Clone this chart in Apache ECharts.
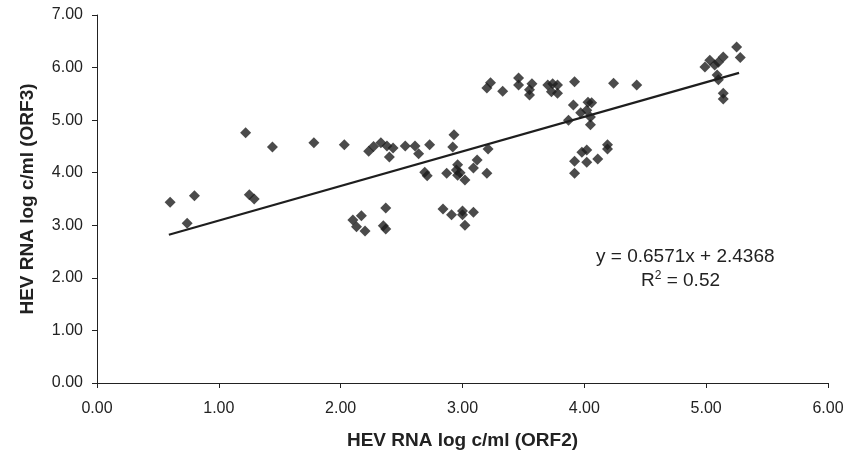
<!DOCTYPE html>
<html>
<head>
<meta charset="utf-8">
<script src="https://cdn.jsdelivr.net/npm/echarts@6/dist/echarts.min.js"></script>
<style>html,body{margin:0;padding:0;background:#fff}#c{width:848px;height:458px}</style>
</head>
<body>
<div id="c"></div>
<script>
const xValues = [0.60,0.74,0.80,1.22,1.25,1.29,1.44,1.78,2.03,
  2.10,2.13,2.17,2.20,2.35,2.37,2.37,
  2.23,2.27,2.33,2.38,2.40,2.43,2.53,2.61,2.64,2.69,2.71,2.73,
  2.84,2.91,3.00,3.00,3.02,3.09,
  2.92,2.93,2.87,2.96,2.95,2.98,2.96,3.02,3.09,3.12,3.20,3.21,
  3.20,3.23,3.33,3.46,3.46,3.57,3.55,3.55,3.70,3.74,3.73,3.78,3.78,3.92,
  3.91,3.87,3.97,4.03,4.06,4.02,4.05,4.05,4.24,4.43,
  4.19,4.19,3.98,4.02,3.92,4.02,4.11,3.92,
  4.99,5.03,5.07,5.10,5.14,5.09,5.10,5.14,5.14,5.25,5.28];
const yValues = [3.44,3.04,3.56,4.76,3.58,3.50,4.49,4.57,4.53,
  3.10,2.97,3.18,2.89,2.99,2.93,3.33,
  4.41,4.50,4.57,4.51,4.30,4.47,4.51,4.51,4.36,4.01,3.94,4.53,
  3.31,3.20,3.27,3.20,3.00,3.25,
  4.49,4.72,3.99,4.15,4.05,4.00,3.95,3.86,4.09,4.24,3.99,4.45,
  5.61,5.71,5.55,5.80,5.67,5.69,5.58,5.48,5.67,5.69,5.54,5.51,5.67,5.73,
  5.29,5.00,5.14,5.34,5.33,5.19,5.06,4.91,5.70,5.67,
  4.53,4.45,4.39,4.43,4.22,4.20,4.26,3.99,
  6.01,6.14,6.05,6.10,6.20,5.86,5.77,5.51,5.40,6.39,6.19];
const trendX = [0.59, 5.27];
const trendY = [2.82, 5.90];
const xTicks = ['0.00','1.00','2.00','3.00','4.00','5.00','6.00'];
const yTicks = ['0.00','1.00','2.00','3.00','4.00','5.00','6.00','7.00'];

const chart = echarts.init(document.getElementById('c'));
const font = '"Liberation Sans", Arial, sans-serif';
chart.setOption({
  animation: false,
  grid: {left: 97, right: 20, top: 15, bottom: 75},
  xAxis: {
    type: 'value', min: 0, max: 6, interval: 1,
    name: 'HEV RNA log c/ml (ORF2)', nameLocation: 'middle', nameGap: 48,
    nameTextStyle: {fontFamily: font, fontWeight: 'bold', fontSize: 19, color: '#222'},
    axisLine: {show: true, lineStyle: {color: '#222', width: 1}},
    axisTick: {show: true, length: 5, lineStyle: {color: '#222'}},
    axisLabel: {fontFamily: font, fontSize: 16, color: '#222', margin: 18,
      formatter: v => xTicks[Math.round(v)]},
    splitLine: {show: false}
  },
  yAxis: {
    type: 'value', min: 0, max: 7, interval: 1,
    name: 'HEV RNA log c/ml (ORF3)', nameLocation: 'middle', nameGap: 60,
    nameTextStyle: {fontFamily: font, fontWeight: 'bold', fontSize: 19, color: '#222'},
    axisLine: {show: true, lineStyle: {color: '#222', width: 1}},
    axisTick: {show: true, length: 5, lineStyle: {color: '#222'}},
    axisLabel: {fontFamily: font, fontSize: 16, color: '#222', margin: 14,
      formatter: v => yTicks[Math.round(v)]},
    splitLine: {show: false}
  },
  series: [
    {
      type: 'scatter', symbol: 'diamond', symbolSize: 11,
      itemStyle: {color: '#1e1e1e'},
      data: xValues.map((x, i) => [x, yValues[i]]),
      z: 3
    },
    {
      type: 'line', symbol: 'none',
      lineStyle: {color: '#1e1e1e', width: 2.2},
      data: trendX.map((x, i) => [x, trendY[i]]),
      z: 2
    }
  ],
  graphic: [
    {type: 'text', left: 596, top: 247,
      style: {text: 'y = 0.6571x + 2.4368', font: '19px ' + font, fill: '#222'}},
    {type: 'text', left: 641, top: 270,
      style: {text: '{a|R}{s|2}{a| = 0.52}', font: '19px ' + font, fill: '#222',
        rich: {a: {fontSize: 19, fontFamily: font, fill: '#222', verticalAlign: 'bottom'},
               s: {fontSize: 12, fontFamily: font, fill: '#222', verticalAlign: 'top', padding: [0,0,8,0]}}}}
  ]
});
</script>
</body>
</html>
